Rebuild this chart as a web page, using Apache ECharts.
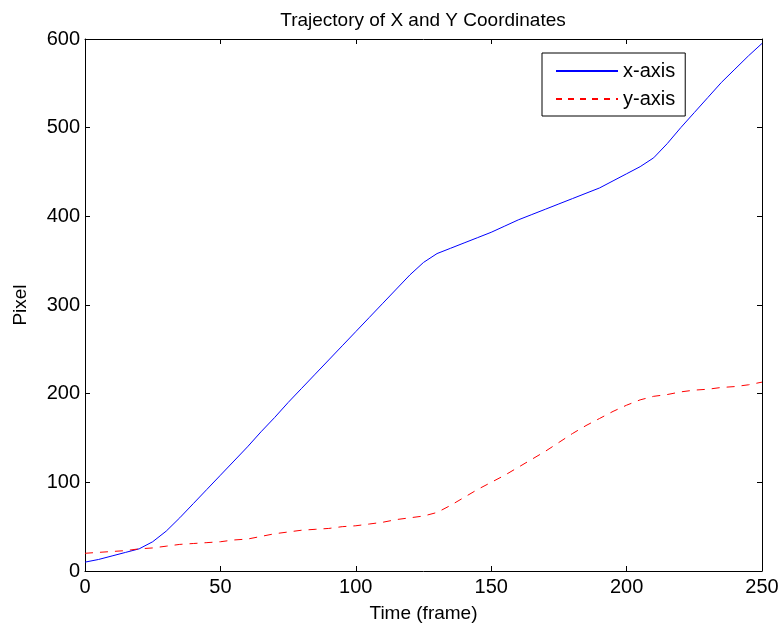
<!DOCTYPE html>
<html style="height: 100%">
  <head>
     <meta charset="utf-8">
  </head>
  <body style="height: 100%; margin: 0; background: #fff">
     <div id="container" style="width: 782px; height: 630px"></div>
     <script type="text/javascript" src="https://cdn.jsdelivr.net/npm/echarts@6/dist/echarts.min.js"></script>
     <script type="text/javascript">
// frame numbers (every 5 frames) and pixel positions
var frames = [0,5,10,15,20,25,30,35,40,45,50,55,60,65,70,75,80,85,90,95,100,105,110,115,120,125,
  130,135,140,145,150,155,160,165,170,175,180,185,190,195,200,205,210,215,220,225,230,235,240,245,250];
var xPixel = [10,13,17,21,25,33,45,60,76,92,108,124,140,157,173,190,206,222,238,254,270,286,302,318,334,348,
  358,364,370,376,382,389,396,402,408,414,420,426,432,440,448,456,466,482,500,517,534,551,566,581,595];
var yPixel = [20,21,22,23,25,26,28,30,31,32,33,35,36,39,42,44,46,47,48,50,51,53,55,58,60,62,
  66,74,83,92,100,108,117,126,135,145,155,164,172,180,187,193,197,199,202,204,205,207,208,210,213];
var seriesNames = ['x-axis', 'y-axis'];

var font = '"Liberation Sans", Arial, sans-serif';

function pairs(vals) {
  return frames.map(function (f, i) { return [f, vals[i]]; });
}

var dom = document.getElementById("container");
var myChart = echarts.init(dom);

// MATLAB style closed box: same look for all four sides
function boxAxis(extra) {
  return Object.assign({
    axisLine: { show: true, onZero: false, lineStyle: { color: '#000', width: 1 } },
    axisTick: { show: true, inside: true, length: 5, lineStyle: { color: '#000' } },
    splitLine: { show: false }
  }, extra);
}

option = {
  backgroundColor: '#fff',
  animation: false,
  title: {
    text: 'Trajectory of X and Y Coordinates',
    left: 418,
    textAlign: 'center',
    top: 6,
    textStyle: { fontFamily: font, fontSize: 19, fontWeight: 'normal', color: '#000' }
  },
  legend: {
    orient: 'vertical',
    left: 542,
    top: 53,
    padding: [8, 10, 7, 13],
    itemWidth: 62,
    itemHeight: 14,
    itemGap: 8,
    borderColor: '#000',
    borderWidth: 1,
    borderRadius: 0,
    backgroundColor: '#fff',
    itemStyle: { color: 'transparent', borderWidth: 0 },
    data: [
      { name: seriesNames[0] },
      { name: seriesNames[1], lineStyle: { type: [6, 6] } }
    ],
    textStyle: { fontFamily: font, fontSize: 20, color: '#000' }
  },
  grid: { left: 85, right: 20, top: 39, bottom: 59 },
  xAxis: [
    boxAxis({
      type: 'value', min: 0, max: 250, interval: 50,
      name: 'Time (frame)', nameLocation: 'middle', nameGap: 33,
      nameTextStyle: { fontFamily: font, fontSize: 19, color: '#000' },
      axisLabel: { fontFamily: font, fontSize: 20, color: '#000', margin: 6 }
    }),
    boxAxis({
      type: 'value', min: 0, max: 250, interval: 50, position: 'top',
      axisLabel: { show: false }
    })
  ],
  yAxis: [
    boxAxis({
      type: 'value', min: 0, max: 600, interval: 100,
      name: 'Pixel', nameLocation: 'middle', nameGap: 55,
      nameTextStyle: { fontFamily: font, fontSize: 19, color: '#000' },
      axisLabel: { fontFamily: font, fontSize: 20, color: '#000', margin: 5 }
    }),
    boxAxis({
      type: 'value', min: 0, max: 600, interval: 100, position: 'right',
      axisLabel: { show: false }
    })
  ],
  series: [
    {
      name: seriesNames[0],
      type: 'line',
      symbol: 'none',
      smooth: false,
      lineStyle: { color: '#0000ff', width: 1 },
      itemStyle: { color: '#0000ff' },
      data: pairs(xPixel)
    },
    {
      name: seriesNames[1],
      type: 'line',
      symbol: 'none',
      smooth: false,
      lineStyle: { color: '#ff0000', width: 1, type: [8, 7] },
      itemStyle: { color: '#ff0000' },
      data: pairs(yPixel)
    }
  ]
};

if (option && typeof option === "object") {
  myChart.setOption(option, true);
}
     </script>
  </body>
</html>
